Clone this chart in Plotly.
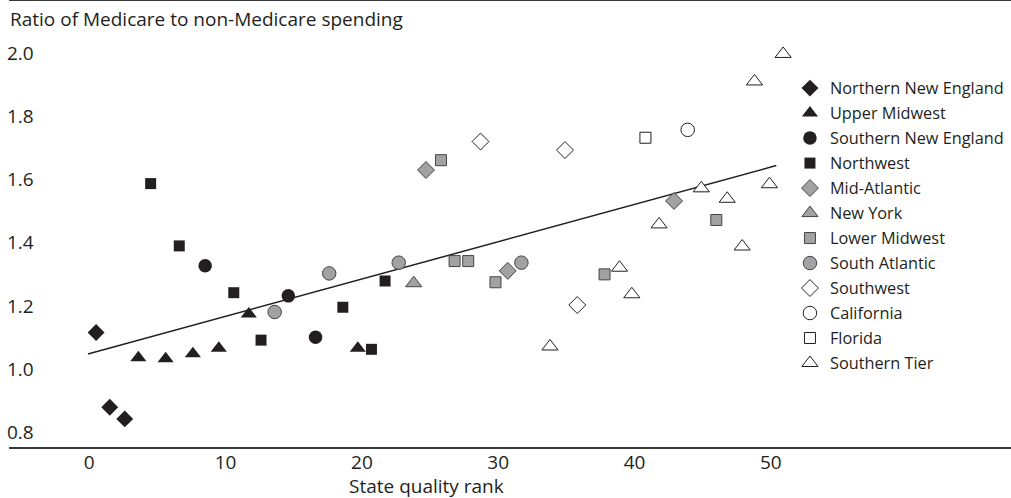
import plotly.graph_objects as go

# ---- data ----
nne_x = [0.5, 1.5, 2.6]
nne_y = [1.116, 0.880, 0.843]

umw_x = [3.6, 5.6, 7.6, 9.5, 11.7, 19.7]
umw_y = [1.036, 1.033, 1.049, 1.066, 1.175, 1.066]

sne_x = [8.5, 14.6, 16.6]
sne_y = [1.327, 1.232, 1.101]

nw_x = [4.5, 6.6, 10.6, 12.6, 18.6, 21.7, 20.7]
nw_y = [1.587, 1.390, 1.242, 1.092, 1.196, 1.279, 1.063]

ma_x = [24.7, 30.7, 42.9]
ma_y = [1.630, 1.311, 1.532]

ny_x = [23.8]
ny_y = [1.272]

lmw_x = [25.8, 26.8, 27.8, 29.8, 37.8, 46.0]
lmw_y = [1.661, 1.342, 1.342, 1.275, 1.300, 1.472]

sa_x = [13.6, 17.6, 22.7, 31.7]
sa_y = [1.181, 1.303, 1.337, 1.337]

sw_x = [28.7, 34.9, 35.8]
sw_y = [1.720, 1.693, 1.203]

ca_x = [43.9]
ca_y = [1.757]

fl_x = [40.8]
fl_y = [1.732]

st_x = [50.9, 48.8, 44.9, 46.8, 49.9, 41.8, 47.9, 38.9, 39.8, 33.8]
st_y = [1.997, 1.910, 1.572, 1.539, 1.585, 1.458, 1.388, 1.321, 1.237, 1.072]

trend_x = [-0.1, 50.4]
trend_y = [1.048, 1.644]

x_ticks = [0, 10, 20, 30, 40, 50]
y_ticks = [0.8, 1.0, 1.2, 1.4, 1.6, 1.8, 2.0]
y_tick_labels = ["0.8", "1.0", "1.2", "1.4", "1.6", "1.8", "2.0"]

# ---- styles ----
BLACK = "#231f20"
GREY = "#a2a2a4"
GREY_LINE = "#444444"
WHITE = "#ffffff"
FONT = "Open Sans"

series = [
    ("Northern New England", nne_x, nne_y, "diamond", 13, BLACK, BLACK, 0),
    ("Upper Midwest", umw_x, umw_y, "triangle-up", 14, BLACK, BLACK, 0),
    ("Southern New England", sne_x, sne_y, "circle", 13.5, BLACK, BLACK, 0),
    ("Northwest", nw_x, nw_y, "square", 11, BLACK, BLACK, 0),
    ("Mid-Atlantic", ma_x, ma_y, "diamond", 13, GREY, GREY_LINE, 1),
    ("New York", ny_x, ny_y, "triangle-up", 14, GREY, GREY_LINE, 1),
    ("Lower Midwest", lmw_x, lmw_y, "square", 11, GREY, GREY_LINE, 1),
    ("South Atlantic", sa_x, sa_y, "circle", 13.5, GREY, GREY_LINE, 1),
    ("Southwest", sw_x, sw_y, "diamond", 13, WHITE, BLACK, 1),
    ("California", ca_x, ca_y, "circle", 13.5, WHITE, BLACK, 1),
    ("Florida", fl_x, fl_y, "square", 11, WHITE, BLACK, 1),
    ("Southern Tier", st_x, st_y, "triangle-up", 14, WHITE, BLACK, 1),
]

fig = go.Figure()

fig.add_trace(go.Scatter(
    x=trend_x, y=trend_y, mode="lines",
    line=dict(color=BLACK, width=1.5),
    showlegend=False, hoverinfo="skip",
))

for i, (name, xs, ys, sym, size, fill, lc, lw) in enumerate(series):
    fig.add_trace(go.Scatter(
        x=xs, y=ys, mode="markers", name=name,
        legendgroup=f"g{i}",
        marker=dict(symbol=sym, size=size, color=fill,
                    line=dict(color=lc, width=lw)),
    ))

fig.update_layout(
    width=1011, height=498,
    margin=dict(l=9, r=0, t=1, b=51),
    plot_bgcolor="white", paper_bgcolor="white",
    font=dict(family=FONT, color=BLACK, size=19),
    xaxis=dict(
        range=[-5.891, 67.62],
        tickvals=x_ticks,
        showgrid=False, zeroline=False,
        showline=True, mirror=True, linecolor="#3a3a3a", linewidth=1.5,
        ticks="", ticklabelstandoff=-3,
        tickfont=dict(family=FONT, size=19, color=BLACK),
    ),
    yaxis=dict(
        range=[0.7541, 2.1644],
        tickvals=y_ticks, ticktext=y_tick_labels,
        showgrid=False, zeroline=False, showline=False,
        ticks="", ticklabelposition="inside", ticklabelstandoff=-5,
        tickfont=dict(family=FONT, size=19, color=BLACK),
    ),
    legend=dict(
        x=0.7794, xanchor="left",
        y=0.8430, yanchor="top",
        font=dict(family=FONT, size=16.3, color=BLACK),
        bgcolor="rgba(0,0,0,0)",
        tracegroupgap=0.8,
    ),
    annotations=[
        dict(text="Ratio of Medicare to non-Medicare spending",
             xref="paper", yref="paper", x=-0.001, y=0.9596,
             xanchor="left", yanchor="middle", showarrow=False,
             font=dict(family=FONT, size=19, color=BLACK)),
        dict(text="State quality rank",
             xref="paper", yref="paper", x=0.4162, y=-0.0874,
             xanchor="center", yanchor="middle", showarrow=False,
             font=dict(family=FONT, size=19, color=BLACK)),
    ],
)

fig.write_html("out.html", config={"displayModeBar": False},
               post_script="document.body.style.margin='0px';")
